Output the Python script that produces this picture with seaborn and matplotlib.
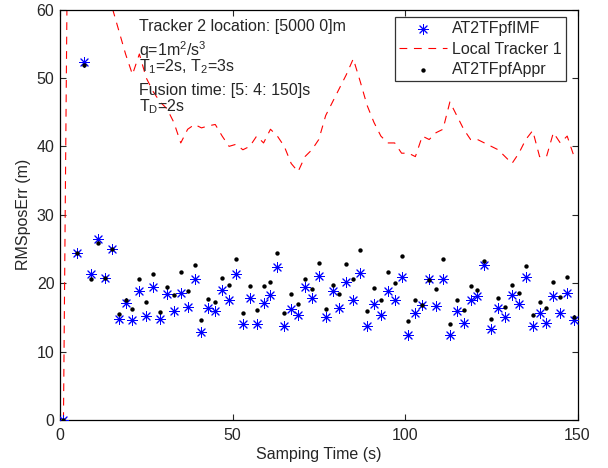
import numpy as np
import pandas as pd
import seaborn as sns
import matplotlib.pyplot as plt

# sampling times of the fused estimates
t_fused = [1] + list(range(5, 150, 2))

imf_err = [0, 24.4, 52.4, 21.3, 26.4, 20.7, 25.0, 14.8, 17.1, 14.6, 18.9,
           15.2, 19.4, 14.8, 18.4, 15.9, 18.6, 16.5, 20.6, 12.9, 16.4,
           15.9, 19.0, 17.5, 21.4, 14.0, 17.9, 14.0, 17.1, 18.2, 22.3,
           13.7, 16.2, 15.4, 19.4, 17.9, 21.0, 15.0, 18.8, 16.3, 20.2,
           17.6, 21.5, 13.8, 16.9, 15.3, 18.8, 17.6, 20.9, 12.4, 15.6,
           16.8, 20.6, 16.6, 20.6, 12.4, 16.0, 14.2, 17.5, 18.1, 22.7,
           13.3, 16.3, 15.1, 18.2, 16.9, 20.9, 13.8, 15.7, 14.2, 18.1,
           15.7, 18.5, 14.6]

appr_err = [0, 24.4, 51.9, 20.6, 25.8, 20.7, 25.0, 15.5, 17.6, 16.2, 20.6,
            17.3, 21.3, 15.8, 19.5, 18.3, 21.6, 18.8, 22.7, 14.6, 17.7,
            17.3, 20.7, 19.7, 23.5, 15.7, 19.6, 16.1, 19.6, 20.1, 24.4,
            15.7, 18.4, 16.9, 20.6, 19.2, 22.9, 16.2, 19.7, 18.4, 22.8,
            20.6, 24.8, 15.9, 19.3, 17.6, 21.6, 20.0, 24.0, 14.5, 17.5,
            16.8, 20.5, 19.2, 23.5, 14.0, 17.5, 16.1, 19.6, 19.0, 23.3,
            14.7, 17.9, 16.5, 19.7, 18.6, 22.5, 15.4, 17.2, 16.3, 20.1,
            18.0, 20.9, 15.0]

# local tracker 1 (every 2 s)
t_local = list(range(1, 150, 2))
local_err = [0, 120, 95, 80, 70, 64, 61, 60.5, 57, 53.5, 50.5, 53.5, 50,
             48, 46.5, 45.5, 43.5, 40.5, 42.5, 43.2, 42.7, 43, 43.2, 41.5,
             40, 40.3, 39.5, 40, 41.5, 40.5, 42.5, 41.5, 40, 37.5, 36.3,
             38.5, 39.5, 41, 44.5, 46.5, 48.5, 50.5, 52.8, 49.5, 46, 43.5,
             41.5, 40.5, 40.5, 39, 39, 38.5, 41.5, 41, 42, 42.5, 46.5, 44.5,
             42.5, 41, 41, 40.5, 40, 39.5, 38.5, 37.5, 39, 41, 42.3, 38.5,
             38.5, 42, 40.5, 41.5, 38.5]

notes = ["Tracker 2 location: [5000 0]m", r"q=1m$^2$/s$^3$",
         r"T$_1$=2s, T$_2$=3s", "Fusion time: [5: 4: 150]s", r"T$_D$=2s"]

sns.set_style("white")
plt.rcParams['font.family'] = ['Liberation Sans', 'DejaVu Sans']
plt.rcParams['mathtext.fontset'] = 'custom'
plt.rcParams['mathtext.rm'] = 'Liberation Sans'
plt.rcParams['mathtext.it'] = 'Liberation Sans'
fs = 11.5

fig = plt.figure(figsize=(6.08, 4.68), dpi=100)
ax = fig.add_axes([0.0987, 0.1026, 0.8512, 0.877])

dfF = pd.DataFrame({"t": t_fused, "imf": imf_err, "appr": appr_err})
dfL = pd.DataFrame({"t": t_local, "err": local_err})

sns.scatterplot(data=dfF, x="t", y="imf", marker=(8, 2, 0), s=52,
                color="blue", linewidth=0.7, ax=ax, label="AT2TFpfIMF", zorder=3)
sns.lineplot(data=dfL, x="t", y="err", color="red", linewidth=0.8,
             dashes=False, ax=ax, label="Local Tracker 1", zorder=2)
ax.lines[-1].set_dashes((7, 6))
sns.scatterplot(data=dfF, x="t", y="appr", marker="o", s=10, color="black",
                linewidth=0, ax=ax, label="AT2TFpfAppr", zorder=4)

ax.set_xlim(0, 150)
ax.set_ylim(0, 60)
ax.set_xticks([0, 50, 100, 150])
ax.set_yticks(range(0, 61, 10))
ax.tick_params(direction="in", length=4, width=0.8, labelsize=fs,
               top=True, right=True, bottom=True, left=True, pad=4)
ax.tick_params(axis="x", pad=6)
for s in ax.spines.values():
    s.set_color("black")
    s.set_linewidth(0.9)
ax.set_xlabel("Samping Time (s)", fontsize=fs, labelpad=3)
ax.set_ylabel("RMSposErr (m)", fontsize=fs, labelpad=4)

# annotation block
for yy, txt in zip([56.8, 53.2, 50.9, 47.5, 45.1], notes):
    ax.text(23.0, yy, txt, fontsize=fs, va="baseline")

h, l = ax.get_legend_handles_labels()
leg = ax.legend(h, l, loc="upper right", bbox_to_anchor=(0.977, 0.982),
                fontsize=fs, frameon=True, fancybox=False, handlelength=3.0,
                borderpad=0.25, labelspacing=0.35, handletextpad=0.3,
                borderaxespad=0)
leg.get_frame().set_edgecolor("black")
leg.get_frame().set_linewidth(0.9)

fig.savefig("out.png", dpi=100)
